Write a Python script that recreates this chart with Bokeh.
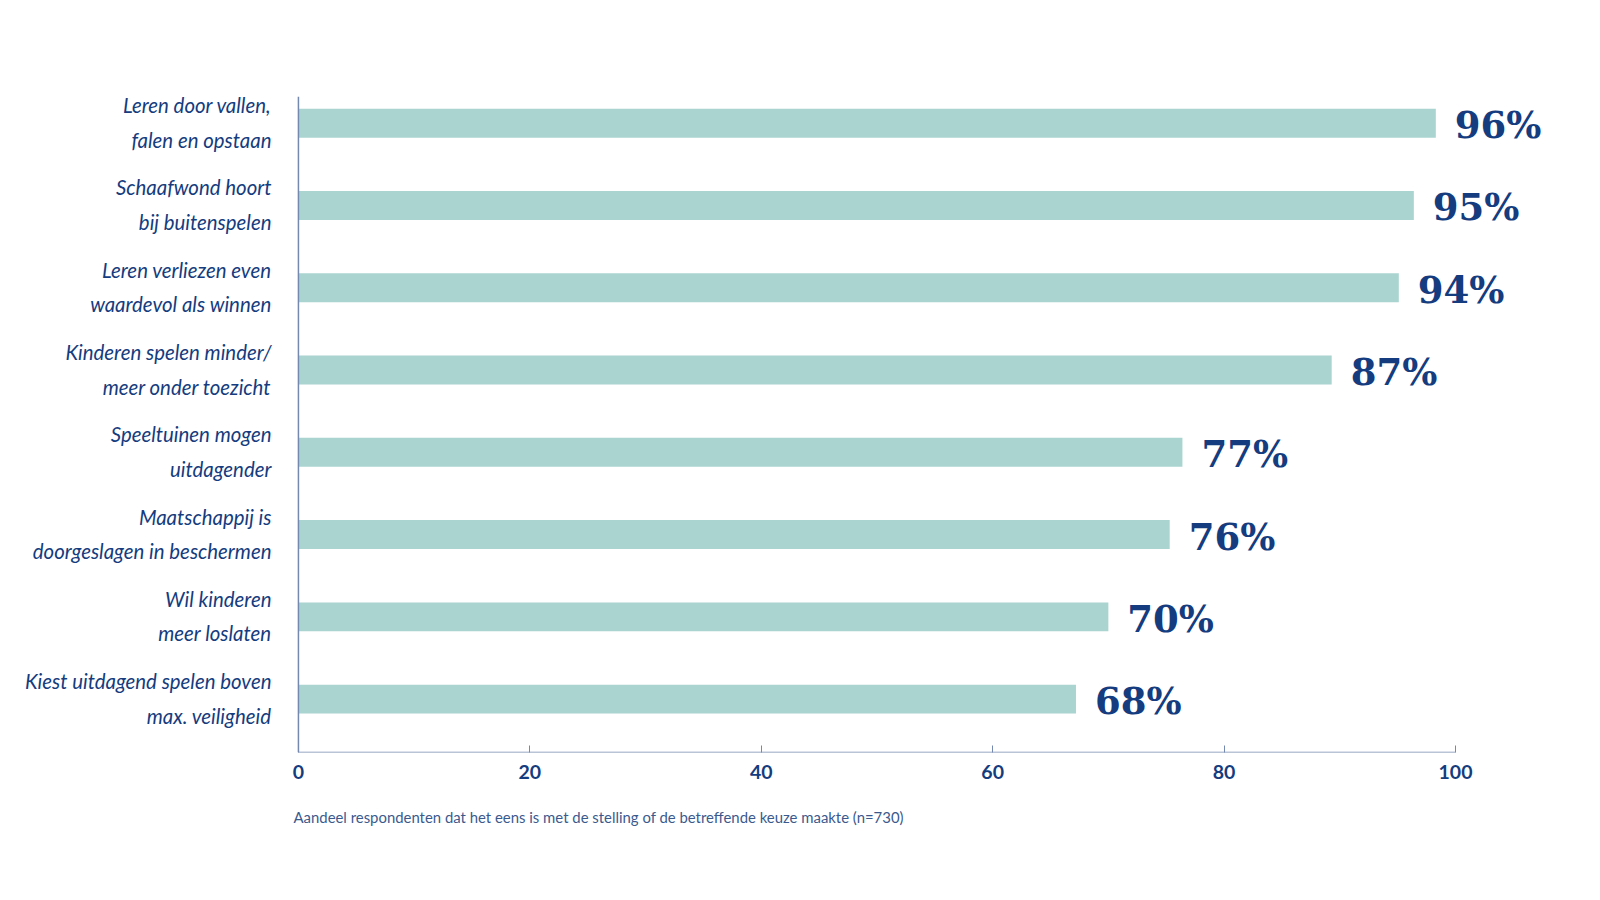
from bokeh.plotting import figure
from bokeh.models import Range1d, FixedTicker, Title, ColumnDataSource
from bokeh.core.properties import value
from bokeh.embed import file_html
from bokeh.resources import INLINE

categories = [
    "Leren door vallen,\nfalen en opstaan",
    "Schaafwond hoort\nbij buitenspelen",
    "Leren verliezen even\nwaardevol als winnen",
    "Kinderen spelen minder/\nmeer onder toezicht",
    "Speeltuinen mogen\nuitdagender",
    "Maatschappij is\ndoorgeslagen in beschermen",
    "Wil kinderen\nmeer loslaten",
    "Kiest uitdagend spelen boven\nmax. veiligheid",
]
bar_values = [98.3, 96.4, 95.1, 89.3, 76.4, 75.3, 70.0, 67.2]
pct_labels = ["96%", "95%", "94%", "87%", "77%", "76%", "70%", "68%"]
x_ticks = [0, 20, 40, 60, 80, 100]
subtitle = "Aandeel respondenten dat het eens is met de stelling of de betreffende keuze maakte (n=730)"

NAVY = "#143c7e"
BAR = "#a9d4d0"
AXIS = "#7489b0"

n = len(categories)
pos = list(range(n))
line1 = [c.split("\n")[0] for c in categories]
line2 = [c.split("\n")[1] for c in categories]

src = ColumnDataSource(dict(y=pos, v=bar_values, lab=pct_labels, l1=line1, l2=line2,
                            zero=[0] * n))

p = figure(width=1584, height=872, output_backend="svg", toolbar_location=None,
           x_range=Range1d(-25.75, 111.15), y_range=Range1d(7.65, -0.325),
           y_axis_location=None, min_border_left=0, min_border_right=0,
           min_border_top=96, min_border_bottom=120)
p.outline_line_color = None
p.grid.visible = False
p.background_fill_color = "white"
p.border_fill_color = "white"

p.hbar(y="y", left=0, right="v", height=0.35, source=src, fill_color=BAR, line_color=None)

p.text(x="v", y="y", text="lab", source=src, x_offset=19, y_offset=2, text_align="left",
       text_baseline="middle", text_font=value("DejaVu Serif"), text_font_style="bold",
       text_font_size="37px", text_color=NAVY)

p.text(x="zero", y="y", text="l1", source=src, x_offset=-27, y_offset=-18,
       text_align="right", text_baseline="middle", text_font=value("Lato"),
       text_font_style="italic", text_font_size="20.4px", text_color=NAVY)
p.text(x="zero", y="y", text="l2", source=src, x_offset=-27, y_offset=16.5,
       text_align="right", text_baseline="middle", text_font=value("Lato"),
       text_font_style="italic", text_font_size="20.4px", text_color=NAVY)

# axis lines
p.segment(x0=[0], y0=[-0.325], x1=[0], y1=[7.65], line_color=AXIS, line_width=1.5)
p.segment(x0=[0], y0=[7.65], x1=[100], y1=[7.65], line_color=AXIS, line_width=1.5)

ax = p.xaxis[0]
ax.ticker = FixedTicker(ticks=x_ticks)
ax.axis_line_color = None
ax.major_tick_in = 7
ax.major_tick_out = 0
ax.major_tick_line_color = AXIS
ax.minor_tick_line_color = None
ax.major_label_standoff = 12
ax.major_label_text_font = "Lato"
ax.major_label_text_font_style = "bold"
ax.major_label_text_font_size = "19.5px"
ax.major_label_text_color = NAVY

t = Title(text=subtitle, align="left", offset=293, standoff=49,
          text_font="Lato", text_font_style="normal", text_font_size="14.9px",
          text_color="#3a5a8e")
p.add_layout(t, "below")

open("out.html", "w").write(file_html(p, INLINE))
